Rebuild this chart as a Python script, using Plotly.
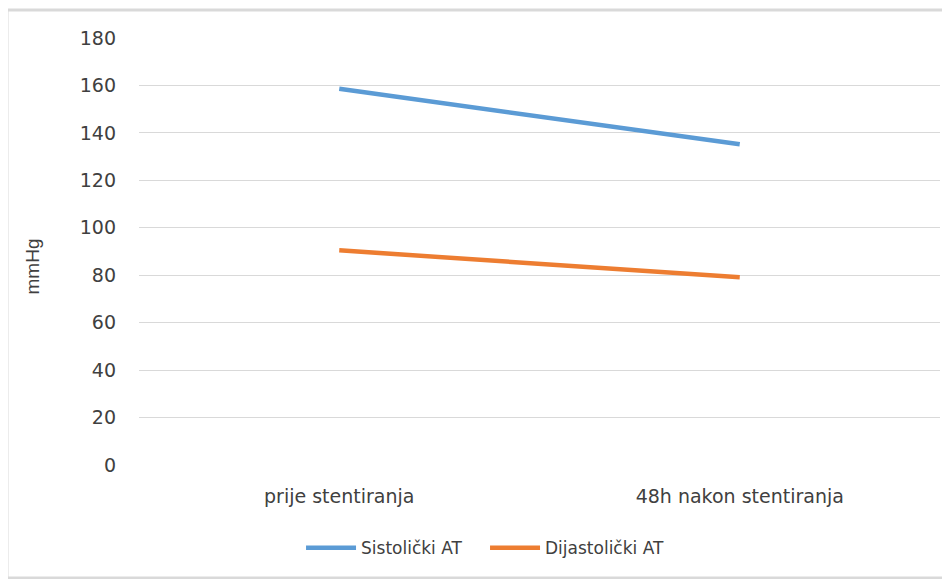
import plotly.graph_objects as go

categories = ["prije stentiranja", "48h nakon stentiranja"]
sistolicki = [158.6, 135.2]
dijastolicki = [90.5, 79.1]
series_names = ["Sistolički AT", "Dijastolički AT"]
y_ticks = [0, 20, 40, 60, 80, 100, 120, 140, 160, 180]
y_title = "mmHg"

FONT = "DejaVu Sans, Liberation Sans, Arial"

fig = go.Figure()
fig.add_trace(go.Scatter(x=categories, y=sistolicki, mode="lines", name=series_names[0],
                         line=dict(color="#5B9BD5", width=4.5)))
fig.add_trace(go.Scatter(x=categories, y=dijastolicki, mode="lines", name=series_names[1],
                         line=dict(color="#ED7D31", width=4.5)))

fig.update_layout(
    width=950, height=579,
    margin=dict(l=131, r=18, t=30, b=122),
    paper_bgcolor="white", plot_bgcolor="white",
    font=dict(family=FONT, color="#404040", size=17),
    showlegend=True,
    legend=dict(orientation="h", x=0.432, xanchor="center", y=-0.195, yanchor="middle",
                font=dict(size=17, color="#404040"), itemwidth=50, traceorder="normal",
                entrywidth=119),
    xaxis=dict(type="category", range=[-0.5, 1.5], automargin=False,
               showgrid=False, showline=False, zeroline=False, ticks="",
               ticklabelstandoff=18, tickfont=dict(size=19, color="#404040")),
    yaxis=dict(range=[0, 180], tickvals=y_ticks, automargin=False, showgrid=True,
               gridcolor="#D9D9D9", gridwidth=1, zeroline=False, showline=False, ticks="",
               ticklabelstandoff=22, tickfont=dict(size=19, color="#404040")),
    annotations=[dict(text=y_title, textangle=-90, xref="paper", yref="paper",
                      x=-0.133, y=0.466, xanchor="center", yanchor="middle", showarrow=False,
                      font=dict(family="Liberation Sans, Arial", size=19, color="#404040"))],
    shapes=[dict(type="rect", xref="paper", yref="paper",
                 x0=-0.1648, x1=1.03, y0=-0.2646, y1=1.0656,
                 line=dict(color="#D9D9D9", width=3), fillcolor="rgba(0,0,0,0)", layer="below")],
)

fig.write_html("out.html")
